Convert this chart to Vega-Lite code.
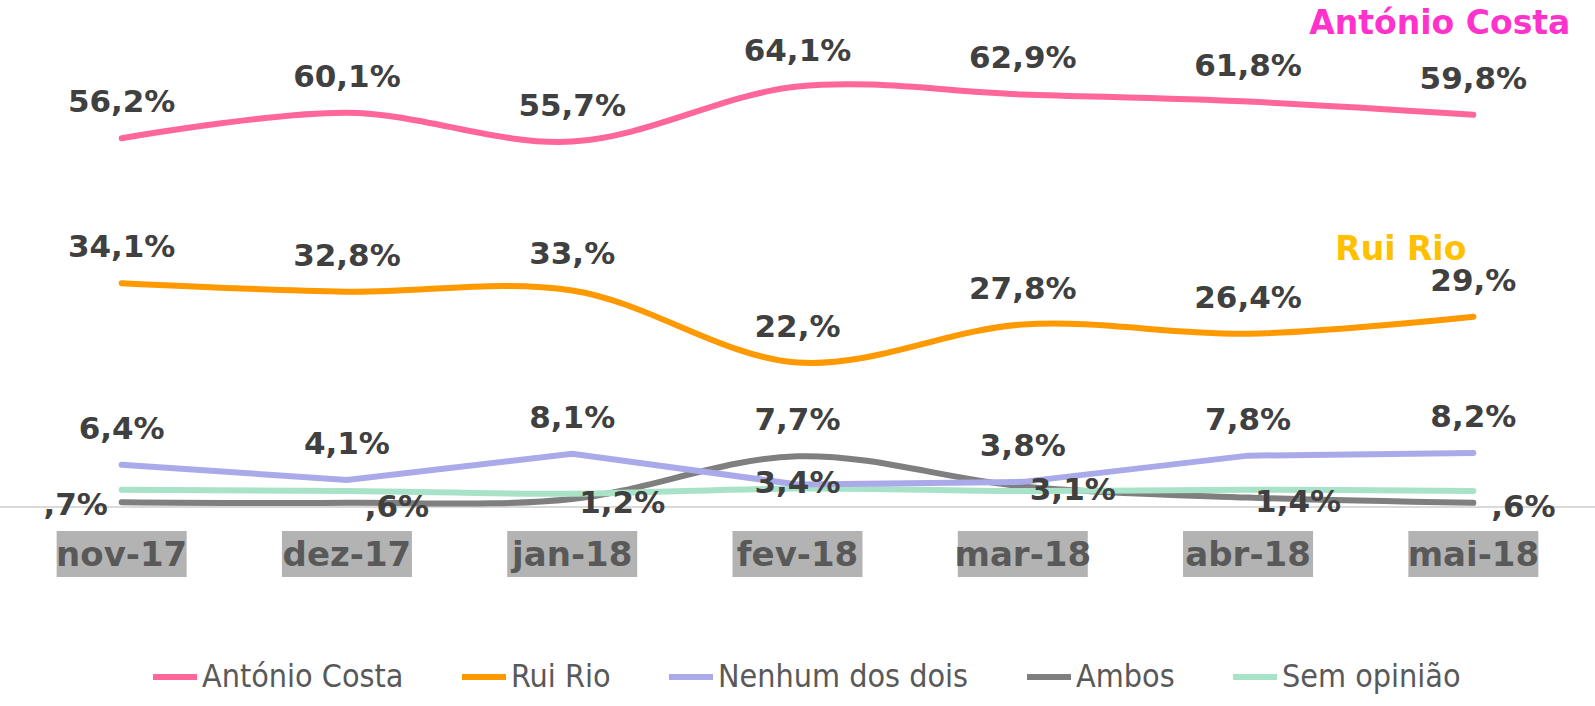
{
  "$schema": "https://vega.github.io/schema/vega-lite/v6.json",
  "width": 1595,
  "height": 592,
  "autosize": "none",
  "padding": {"left": 0, "top": 0, "right": 0, "bottom": 114},
  "background": "white",
  "config": {"view": {"stroke": null}},
  "datasets": {
    "d": [
      {"mes": "nov-17", "serie": "António Costa", "v": 56.2, "label": "56,2%"},
      {"mes": "dez-17", "serie": "António Costa", "v": 60.1, "label": "60,1%"},
      {"mes": "jan-18", "serie": "António Costa", "v": 55.7, "label": "55,7%"},
      {"mes": "fev-18", "serie": "António Costa", "v": 64.1, "label": "64,1%"},
      {"mes": "mar-18", "serie": "António Costa", "v": 62.9, "label": "62,9%"},
      {"mes": "abr-18", "serie": "António Costa", "v": 61.8, "label": "61,8%"},
      {"mes": "mai-18", "serie": "António Costa", "v": 59.8, "label": "59,8%"},
      {"mes": "nov-17", "serie": "Rui Rio", "v": 34.1, "label": "34,1%"},
      {"mes": "dez-17", "serie": "Rui Rio", "v": 32.8, "label": "32,8%"},
      {"mes": "jan-18", "serie": "Rui Rio", "v": 33.0, "label": "33,%"},
      {"mes": "fev-18", "serie": "Rui Rio", "v": 22.0, "label": "22,%"},
      {"mes": "mar-18", "serie": "Rui Rio", "v": 27.8, "label": "27,8%"},
      {"mes": "abr-18", "serie": "Rui Rio", "v": 26.4, "label": "26,4%"},
      {"mes": "mai-18", "serie": "Rui Rio", "v": 29.0, "label": "29,%"},
      {"mes": "nov-17", "serie": "Nenhum dos dois", "v": 6.4, "label": "6,4%"},
      {"mes": "dez-17", "serie": "Nenhum dos dois", "v": 4.1, "label": "4,1%"},
      {"mes": "jan-18", "serie": "Nenhum dos dois", "v": 8.1, "label": "8,1%"},
      {"mes": "fev-18", "serie": "Nenhum dos dois", "v": 3.4, "label": "3,4%"},
      {"mes": "mar-18", "serie": "Nenhum dos dois", "v": 3.8, "label": "3,8%"},
      {"mes": "abr-18", "serie": "Nenhum dos dois", "v": 7.8, "label": "7,8%"},
      {"mes": "mai-18", "serie": "Nenhum dos dois", "v": 8.2, "label": "8,2%"},
      {"mes": "nov-17", "serie": "Ambos", "v": 0.7, "label": ",7%"},
      {"mes": "dez-17", "serie": "Ambos", "v": 0.6, "label": ",6%"},
      {"mes": "jan-18", "serie": "Ambos", "v": 1.2, "label": "1,2%"},
      {"mes": "fev-18", "serie": "Ambos", "v": 7.7, "label": "7,7%"},
      {"mes": "mar-18", "serie": "Ambos", "v": 3.1, "label": "3,1%"},
      {"mes": "abr-18", "serie": "Ambos", "v": 1.4, "label": "1,4%"},
      {"mes": "mai-18", "serie": "Ambos", "v": 0.6, "label": ",6%"},
      {"mes": "nov-17", "serie": "Sem opinião", "v": 2.6, "label": ""},
      {"mes": "dez-17", "serie": "Sem opinião", "v": 2.4, "label": ""},
      {"mes": "jan-18", "serie": "Sem opinião", "v": 2.0, "label": ""},
      {"mes": "fev-18", "serie": "Sem opinião", "v": 2.8, "label": ""},
      {"mes": "mar-18", "serie": "Sem opinião", "v": 2.4, "label": ""},
      {"mes": "abr-18", "serie": "Sem opinião", "v": 2.6, "label": ""},
      {"mes": "mai-18", "serie": "Sem opinião", "v": 2.4, "label": ""}
    ]
  },
  "data": {"name": "d"},
  "encoding": {
    "x": {
      "field": "mes", "type": "ordinal",
      "sort": ["nov-17", "dez-17", "jan-18", "fev-18", "mar-18", "abr-18", "mai-18"],
      "scale": {"type": "point", "padding": 0.54},
      "axis": null
    }
  },
  "layer": [
    {
      "mark": {"type": "rule", "color": "#d9d9d9", "strokeWidth": 1.5},
      "encoding": {"x": null, "y": {"datum": 0, "type": "quantitative", "scale": {"domain": [-13, 77.3], "nice": false, "zero": false}, "axis": null}}
    },
    {
      "transform": [{"filter": "datum.serie === 'António Costa'"}],
      "mark": {"type": "bar", "width": 130, "color": "#b3b3b3"},
      "encoding": {"y": {"datum": -3.7, "type": "quantitative"}, "y2": {"datum": -10.7}}
    },
    {
      "transform": [{"filter": "datum.serie === 'António Costa'"}],
      "mark": {"type": "text", "font": "DejaVu Sans", "fontWeight": "bold", "fontSize": 34, "color": "#595959", "baseline": "middle", "dy": 1},
      "encoding": {"y": {"datum": -7.4, "type": "quantitative"}, "text": {"field": "mes"}}
    },
    {
      "mark": {"type": "line", "strokeWidth": 6, "strokeCap": "round", "interpolate": "catmull-rom"},
      "transform": [{"filter": "datum.serie !== 'Nenhum dos dois'"}],
      "encoding": {
        "y": {"field": "v", "type": "quantitative"},
        "color": {
          "field": "serie", "type": "nominal",
          "scale": {
            "domain": ["António Costa", "Rui Rio", "Nenhum dos dois", "Ambos", "Sem opinião"],
            "range": ["#ff6699", "#ff9900", "#aaaaea", "#7f7f7f", "#a8e2c8"]
          },
          "legend": {
            "title": null, "orient": "none", "legendX": 150, "legendY": 652, "direction": "horizontal",
            "symbolType": "stroke", "symbolStrokeWidth": 6, "symbolSize": 1936,
            "labelFont": "DejaVu Sans Condensed", "labelFontSize": 32, "labelColor": "#595959",
            "columnPadding": 46, "labelOffset": 2, "labelLimit": 400
          }
        }
      }
    },
    {
      "mark": {"type": "line", "strokeWidth": 6, "strokeCap": "round", "interpolate": "linear"},
      "transform": [{"filter": "datum.serie === 'Nenhum dos dois'"}],
      "encoding": {
        "y": {"field": "v", "type": "quantitative"},
        "color": {"field": "serie", "type": "nominal"}
      }
    },
    {
      "transform": [{"filter": "datum.serie === 'António Costa' || datum.serie === 'Rui Rio' || (datum.serie === 'Nenhum dos dois' && datum.mes !== 'fev-18') || (datum.serie === 'Ambos' && datum.mes === 'fev-18')"}],
      "mark": {"type": "text", "font": "DejaVu Sans", "fontWeight": "bold", "fontSize": 31, "color": "#404040", "baseline": "middle", "dy": -35},
      "encoding": {"y": {"field": "v", "type": "quantitative"}, "text": {"field": "label"}}
    },
    {
      "transform": [{"filter": "datum.serie === 'Nenhum dos dois' && datum.mes === 'fev-18'"}],
      "mark": {"type": "text", "font": "DejaVu Sans", "fontWeight": "bold", "fontSize": 31, "color": "#404040", "baseline": "middle", "dy": 0},
      "encoding": {"y": {"field": "v", "type": "quantitative"}, "text": {"field": "label"}}
    },
    {
      "transform": [{"filter": "datum.serie === 'Ambos' && datum.mes === 'nov-17'"}],
      "mark": {"type": "text", "font": "DejaVu Sans", "fontWeight": "bold", "fontSize": 31, "color": "#404040", "baseline": "middle", "align": "center", "dx": -46, "dy": 4},
      "encoding": {"y": {"field": "v", "type": "quantitative"}, "text": {"field": "label"}}
    },
    {
      "transform": [{"filter": "datum.serie === 'Ambos' && datum.mes !== 'nov-17' && datum.mes !== 'fev-18'"}],
      "mark": {"type": "text", "font": "DejaVu Sans", "fontWeight": "bold", "fontSize": 31, "color": "#404040", "baseline": "middle", "align": "center", "dx": 50, "dy": 5},
      "encoding": {"y": {"field": "v", "type": "quantitative"}, "text": {"field": "label"}}
    },
    {
      "data": {"values": [{"t": "António Costa"}]},
      "mark": {"type": "text", "font": "DejaVu Sans", "fontWeight": "bold", "fontSize": 33, "color": "#ff33cc", "align": "right", "baseline": "middle", "dx": 97},
      "encoding": {"x": {"datum": "mai-18"}, "y": {"datum": 73.7, "type": "quantitative"}, "text": {"field": "t"}}
    },
    {
      "data": {"values": [{"t": "Rui Rio"}]},
      "mark": {"type": "text", "font": "DejaVu Sans", "fontWeight": "bold", "fontSize": 33, "color": "#ffc000", "align": "right", "baseline": "middle", "dx": -7},
      "encoding": {"x": {"datum": "mai-18"}, "y": {"datum": 39.2, "type": "quantitative"}, "text": {"field": "t"}}
    }
  ]
}
